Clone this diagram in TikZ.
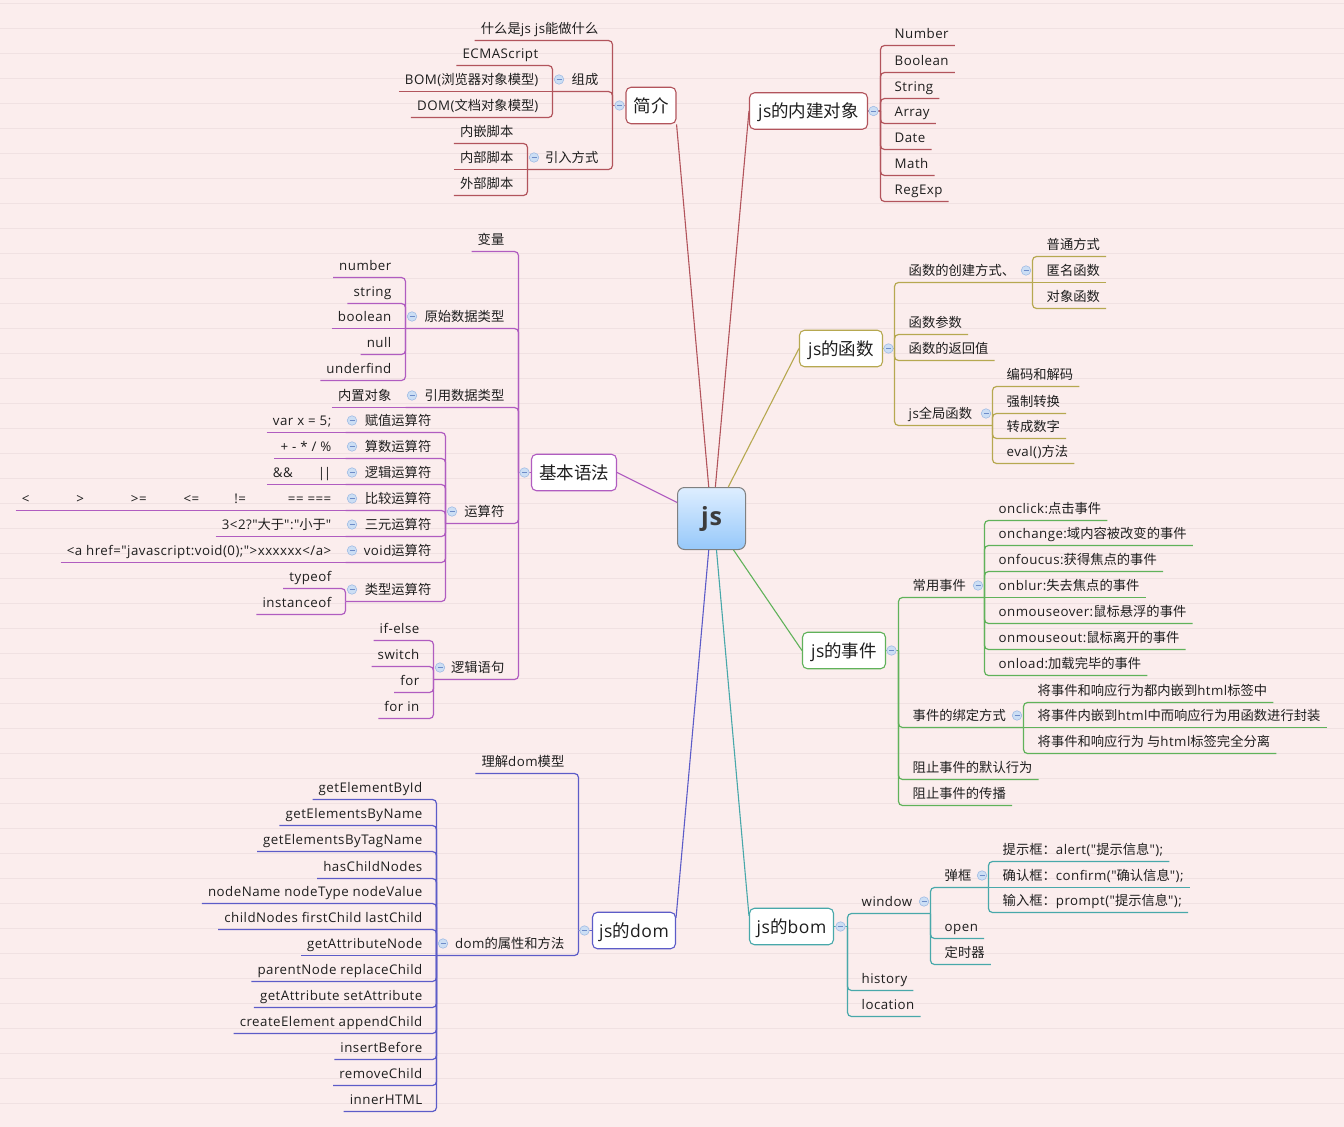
\documentclass[tikz,border=0pt]{standalone}
\usepackage{fontspec}
\newfontfamily\latf{Open Sans}[LetterSpace=3.5]
\newfontfamily\cjkf{Noto Sans CJK SC}
\usetikzlibrary{calc}
% automatic switch between Latin and CJK fonts
\XeTeXinterchartokenstate=1
\newXeTeXintercharclass\cjkclass
\newcount\mycnt
\mycnt="3000 \loop \XeTeXcharclass\mycnt=\cjkclass \advance\mycnt 1 \ifnum\mycnt<"3040 \repeat
\mycnt="4E00 \loop \XeTeXcharclass\mycnt=\cjkclass \advance\mycnt 1 \ifnum\mycnt<"A000 \repeat
\mycnt="FF00 \loop \XeTeXcharclass\mycnt=\cjkclass \advance\mycnt 1 \ifnum\mycnt<"FFF0 \repeat
\mycnt=33 \loop \XeTeXcharclass\mycnt=0 \advance\mycnt 1 \ifnum\mycnt<127 \repeat
\XeTeXinterchartoks 0 \cjkclass = {\cjkf}
\XeTeXinterchartoks 4095 \cjkclass = {\cjkf}
\XeTeXinterchartoks \cjkclass 0 = {\latf}
\XeTeXinterchartoks 4095 0 = {\latf}

\definecolor{bgc}{RGB}{251,237,237}
\definecolor{gridc}{RGB}{240,225,226}
\definecolor{cA}{RGB}{178,84,92}
\definecolor{cF}{RGB}{182,168,80}
\definecolor{cP}{RGB}{176,92,192}
\definecolor{cG}{RGB}{96,178,90}
\definecolor{cD}{RGB}{92,92,200}
\definecolor{cB}{RGB}{72,168,170}
\definecolor{txtc}{RGB}{30,30,30}
\definecolor{btnf}{RGB}{204,222,244}
\definecolor{btnb}{RGB}{160,188,228}
\definecolor{btnm}{RGB}{110,140,200}
\colorlet{brc}{cA}

% leaf above/below the parent line
\newcommand\lleaf[5]{%
  \node[lt,anchor=south east] (#1) at (#2-8,#3) {#5};
  \draw[br] (#1.south west) -- (#2,#3) -- (#2,#4);}
\newcommand\rleaf[5]{%
  \node[lt,anchor=south west] (#1) at (#2+8,#3) {#5};
  \draw[br] (#1.south east) -- (#2,#3) -- (#2,#4);}
% leaf on the parent line
\newcommand\lmidd[4]{%
  \node[lt,anchor=south east] (#1) at (#2-8,#3) {#4};
  \draw[br] (#1.south west) -- (#2,#3);}
\newcommand\rmidd[4]{%
  \node[lt,anchor=south west] (#1) at (#2+8,#3) {#4};
  \draw[br] (#1.south east) -- (#2,#3);}
% topic with children
\newcommand\linner[6]{%
  \node[lt,anchor=south east] (#1) at (#2-8,#3) {#6};
  \node[btn] (#1b) at (#5+6.5,#3-12) {};
  \draw[br] (#5,#3) -- (#2,#3) -- (#2,#4);}
\newcommand\rinner[6]{%
  \node[lt,anchor=south west] (#1) at (#2+8,#3) {#6};
  \node[btn] (#1b) at (#5-6.5,#3-12) {};
  \draw[br] (#5,#3) -- (#2,#3) -- (#2,#4);}

\begin{document}
\begin{tikzpicture}[x=1pt,y=-1pt,
  lt/.style={inner xsep=6, inner ysep=3.5, text depth=3.5, text height=10,
    font=\latf\fontsize{13.3}{16}\selectfont, text=txtc},
  br/.style={draw=brc, line width=1.2, rounded corners=4},
  btn/.style={circle, draw=btnb, fill=btnf, line width=0.6, minimum size=9.5, inner sep=0,
    path picture={\draw[btnm, line width=0.9] ([xshift=-2.5pt]path picture bounding box.center) -- ([xshift=2.5pt]path picture bounding box.center);}},
  mt/.style={draw=brc, fill=white, line width=1.1, rounded corners=5, minimum height=36.5,
    inner xsep=4, text height=13.5, text depth=0, font=\latf\fontsize{17.5}{20}\selectfont, text=txtc},
  ml/.style={line width=1.1}]
\useasboundingbox (0,0) rectangle (1344,1127);
\fill[bgc] (0,0) rectangle (1344,1127);
\begin{scope}[shift={(0.5,0.5)}]
\foreach \k in {0,...,44} \draw[gridc, line width=0.8] (-1,3+25*\k) -- (1345,3+25*\k);

% central node
\node[draw={rgb,255:red,128;green,128;blue,128}, line width=1, rounded corners=7,
  top color={rgb,255:red,222;green,238;blue,255}, bottom color={rgb,255:red,150;green,200;blue,250},
  minimum width=68, minimum height=62, font=\latf\bfseries\fontsize{25}{28}\selectfont,
  text={rgb,255:red,60;green,60;blue,60}] (js) at (711,518) {js};

% ===== 简介 =====
\begin{scope}
\colorlet{brc}{cA}
\node[mt, minimum width=50] (jj) at (650.5,105) {简介};
\lleaf{a1}{612}{40}{105}{什么是js js能做什么}
\linner{a2}{612}{91}{105}{552}{组成}
\linner{a3}{612}{169}{105}{527}{引入方式}
\lleaf{a21}{552}{65}{91}{ECMAScript}
\lmidd{a22}{552}{91}{BOM(浏览器对象模型)}
\lleaf{a23}{552}{117}{91}{DOM(文档对象模型)}
\lleaf{a31}{527}{143}{169}{内嵌脚本}
\lmidd{a32}{527}{169}{内部脚本}
\lleaf{a33}{527}{195}{169}{外部脚本}
\draw[br] (jj.west) -- (612,105);
\node[btn] (jjb) at (619,105) {};
\end{scope}

% ===== js的内建对象 =====
\begin{scope}
\colorlet{brc}{cA}
\node[mt, minimum width=118] (nj) at (808,110.5) {js的内建对象};
\rleaf{b1}{880}{45}{110.5}{Number}
\rleaf{b2}{880}{72}{110.5}{Boolean}
\rleaf{b3}{880}{98}{110.5}{String}
\rleaf{b4}{880}{123}{110.5}{Array}
\rleaf{b5}{880}{149}{110.5}{Date}
\rleaf{b6}{880}{175}{110.5}{Math}
\rleaf{b7}{880}{201}{110.5}{RegExp}
\draw[br] (nj.east) -- (880,110.5);
\node[btn] (njb) at (873,110.5) {};
\end{scope}

% ===== js的函数 =====
\begin{scope}
\colorlet{brc}{cF}
\node[mt, minimum width=83] (fn) at (840.5,348) {js的函数};
\rinner{c1}{894}{282}{348}{1032}{函数的创建方式、}
\rleaf{c11}{1032}{256}{282}{普通方式}
\rmidd{c12}{1032}{282}{匿名函数}
\rleaf{c13}{1032}{308}{282}{对象函数}
\rleaf{c2}{894}{334}{348}{函数参数}
\rleaf{c3}{894}{360}{348}{函数的返回值}
\rinner{c4}{894}{425}{348}{992}{js全局函数}
\rleaf{c41}{992}{386}{425}{编码和解码}
\rleaf{c42}{992}{413}{425}{强制转换}
\rleaf{c43}{992}{438}{425}{转成数字}
\rleaf{c44}{992}{463}{425}{eval()方法}
\draw[br] (fn.east) -- (894,348);
\node[btn] (fnb) at (888,348) {};
\end{scope}

% ===== 基本语法 =====
\begin{scope}
\colorlet{brc}{cP}
\node[mt, minimum width=85] (jb) at (573.5,472) {基本语法};
\lleaf{d1}{518}{251}{472}{变量}
\linner{d2}{518}{328}{472}{405}{原始数据类型}
\lleaf{d21}{405}{277}{328}{number}
\lleaf{d22}{405}{303}{328}{string}
\lmidd{d23}{405}{328}{boolean}
\lleaf{d24}{405}{354}{328}{null}
\lleaf{d25}{405}{380}{328}{underfind}
\linner{d3}{518}{407}{472}{405}{引用数据类型}
\lmidd{d31}{405}{407}{内置对象}
\linner{d4}{518}{523}{472}{445}{运算符}
\linner{d41}{445}{432}{523}{345}{赋值运算符}
\lmidd{d411}{345}{432}{var x = 5;}
\linner{d42}{445}{458}{523}{345}{算数运算符}
\lmidd{d421}{345}{458}{+ - * / \%}
\linner{d43}{445}{484}{523}{345}{逻辑运算符}
\lmidd{d431}{345}{484}{\&\&\hspace{25pt}|\kern-1.2pt|}
\linner{d44}{445}{510}{523}{345}{比较运算符}
\lmidd{d441}{345}{510}{<\hspace{47pt}>\hspace{47pt}>=\hspace{37pt}<=\hspace{35pt}!=\hspace{42pt}== ===}
\linner{d45}{445}{536}{523}{345}{三元运算符}
\lmidd{d451}{345}{536}{3<2?"大于":"小于"}
\linner{d46}{445}{562}{523}{345}{void运算符}
\lmidd{d461}{345}{562}{<a href="javascript:void(0);">xxxxxx</a>}
\linner{d47}{445}{601}{523}{345}{类型运算符}
\lleaf{d471}{345}{588}{601}{typeof}
\lleaf{d472}{345}{614}{601}{instanceof}
\linner{d5}{518}{679}{472}{433}{逻辑语句}
\lleaf{d51}{433}{640}{679}{if-else}
\lleaf{d52}{433}{666}{679}{switch}
\lleaf{d53}{433}{692}{679}{for}
\lleaf{d54}{433}{718}{679}{for in}
\draw[br] (jb.west) -- (518,472);
\node[btn] (jbb) at (524,472) {};
\end{scope}

% ===== js的事件 =====
\begin{scope}
\colorlet{brc}{cG}
\node[mt, minimum width=83] (sj) at (843.5,650) {js的事件};
\rinner{e1}{898}{597}{650}{984}{常用事件}
\rleaf{e11}{984}{520}{597}{onclick:点击事件}
\rleaf{e12}{984}{545}{597}{onchange:域内容被改变的事件}
\rleaf{e13}{984}{571}{597}{onfoucus:获得焦点的事件}
\rmidd{e14}{984}{597}{onblur:失去焦点的事件}
\rleaf{e15}{984}{623}{597}{onmouseover:鼠标悬浮的事件}
\rleaf{e16}{984}{649}{597}{onmouseout:鼠标离开的事件}
\rleaf{e17}{984}{675}{597}{onload:加载完毕的事件}
\rinner{e2}{898}{727}{650}{1023}{事件的绑定方式}
\rleaf{e21}{1023}{702}{727}{将事件和响应行为都内嵌到html标签中}
\rmidd{e22}{1023}{727}{将事件内嵌到html中而响应行为用函数进行封装}
\rleaf{e23}{1023}{753}{727}{将事件和响应行为 与html标签完全分离}
\rleaf{e3}{898}{779}{650}{阻止事件的默认行为}
\rleaf{e4}{898}{805}{650}{阻止事件的传播}
\draw[br] (sj.east) -- (898,650);
\node[btn] (sjb) at (891,650) {};
\end{scope}

% ===== js的dom =====
\begin{scope}
\colorlet{brc}{cD}
\node[mt, minimum width=83] (dm) at (633.5,930) {js的dom};
\lleaf{f1}{578}{773}{930}{理解dom模型}
\linner{f2}{578}{955}{930}{436}{dom的属性和方法}
\lleaf{f21}{436}{799}{955}{getElementById}
\lleaf{f22}{436}{825}{955}{getElementsByName}
\lleaf{f23}{436}{851}{955}{getElementsByTagName}
\lleaf{f24}{436}{878}{955}{hasChildNodes}
\lleaf{f25}{436}{903}{955}{nodeName nodeType nodeValue}
\lleaf{f26}{436}{929}{955}{childNodes firstChild lastChild}
\lmidd{f27}{436}{955}{getAttributeNode}
\lleaf{f28}{436}{981}{955}{parentNode replaceChild}
\lleaf{f29}{436}{1007}{955}{getAttribute setAttribute}
\lleaf{f2a}{436}{1033}{955}{createElement appendChild}
\lleaf{f2b}{436}{1059}{955}{insertBefore}
\lleaf{f2c}{436}{1085}{955}{removeChild}
\lleaf{f2d}{436}{1111}{955}{innerHTML}
\draw[br] (dm.west) -- (578,930);
\node[btn] (dmb) at (584,930) {};
\end{scope}

% ===== js的bom =====
\begin{scope}
\colorlet{brc}{cB}
\node[mt, minimum width=84] (bm) at (791,926) {js的bom};
\rinner{g1}{847}{913}{926}{930}{window}
\rinner{g11}{930}{887}{913}{988}{弹框}
\rleaf{g111}{988}{861}{887}{提示框：alert("提示信息");}
\rmidd{g112}{988}{887}{确认框：confirm("确认信息");}
\rleaf{g113}{988}{912}{887}{输入框：prompt("提示信息");}
\rleaf{g12}{930}{938}{913}{open}
\rleaf{g13}{930}{964}{913}{定时器}
\rleaf{g2}{847}{990}{926}{history}
\rleaf{g3}{847}{1016}{926}{location}
\draw[br] (bm.east) -- (847,926);
\node[btn] (bmb) at (840,926) {};
\end{scope}

% main connectors
\draw[ml, cA] (jj.south east) -- (js.95);
\draw[ml, cA] (nj.west) -- (js.83);
\draw[ml, cF] (fn.west) -- (js.62);
\draw[ml, cP] (jb.east) -- (js.155);
\draw[ml, cG] (sj.west) -- (js.-55);
\draw[ml, cB] ($(bm.north west)+(0,8)$) -- (js.-81);
\draw[ml, cD] ($(dm.north east)+(0,6)$) -- (js.-95);
\end{scope}
\end{tikzpicture}
\end{document}
